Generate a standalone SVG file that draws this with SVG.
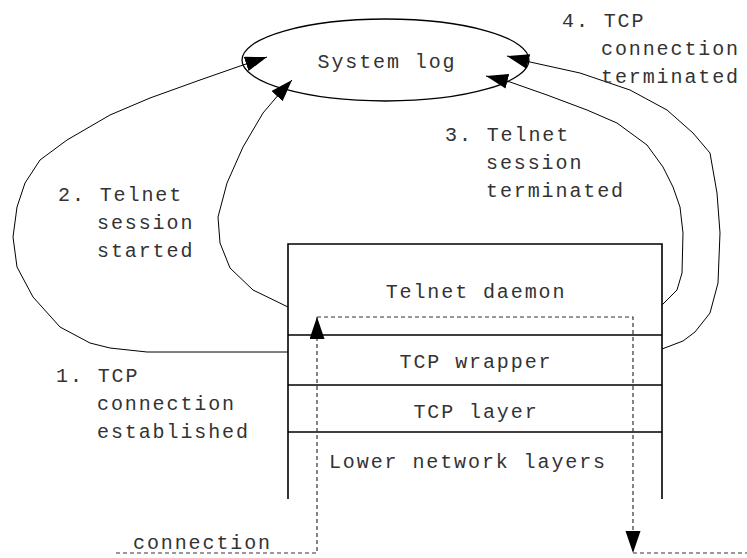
<svg xmlns="http://www.w3.org/2000/svg" width="747" height="558" viewBox="0 0 747 558">
<style>
  text { font-family: "Liberation Mono", "Courier New", monospace; font-size: 20px; letter-spacing: 1.9px; fill: #333; }
  .mid { text-anchor: middle; }
  .node { fill: none; stroke: #000; stroke-width: 1.3; }
  .layer { fill: none; stroke: #000; stroke-width: 1.6; }
  .curve { fill: none; stroke: #000; stroke-width: 1; stroke-linejoin: round; }
  .dash { fill: none; stroke: #333; stroke-width: 1.2; stroke-dasharray: 4 3; }
</style>
<defs>
  <marker id="arrow" markerUnits="userSpaceOnUse" markerWidth="24" markerHeight="16" refX="22" refY="7.5" orient="auto">
    <path d="M0,0 L22,7.5 L0,15 z" fill="#000"/>
  </marker>
</defs>
<rect width="747" height="558" fill="#fff"/>

<g id="system-log">
  <ellipse class="node" cx="385.5" cy="60" rx="143.5" ry="41"/>
  <text x="387" y="68" class="mid">System log</text>
</g>

<g id="telnet-daemon">
  <path class="layer" d="M288,499 V244 H662 V499"/>
  <text x="476" y="298" class="mid">Telnet daemon</text>
</g>
<g id="tcp-wrapper">
  <line class="layer" x1="288" y1="335" x2="662" y2="335"/>
  <text x="476" y="368" class="mid">TCP wrapper</text>
</g>
<g id="tcp-layer">
  <line class="layer" x1="288" y1="385" x2="662" y2="385"/>
  <text x="476" y="418" class="mid">TCP layer</text>
</g>
<g id="lower-layers">
  <line class="layer" x1="288" y1="432" x2="662" y2="432"/>
  <text x="468" y="468" class="mid">Lower network layers</text>
</g>

<g id="connectors">
  <path class="curve" marker-end="url(#arrow)" d="M288,352 L200,352 L147,352 L110,348 L90,343 L60,327 L33,297 L17,267 L13,237 L17,207 L25,183 L40,160 L67,140 L110,115 L150,98 L200,80 L243,65 L267,57"/>
  <path class="curve" marker-end="url(#arrow)" d="M288,307 L253,290 L230,268 L220,243 L218,217 L227,183 L243,147 L263,113 L280,93 L292,80"/>
  <path class="curve" marker-end="url(#arrow)" d="M662,305 L677,290 L682,273 L683,233 L680,207 L673,187 L663,167 L647,145 L617,123 L587,110 L547,95 L510,82 L486,76"/>
  <path class="curve" marker-end="url(#arrow)" d="M662,349 L683,341 L695,332 L710,313 L718,283 L720,233 L717,193 L710,153 L693,133 L667,110 L630,90 L580,73 L530,62 L507,56"/>
  <path class="dash" marker-end="url(#arrow)" d="M116,553 H317 V317"/>
  <path class="dash" marker-end="url(#arrow)" d="M317,317 H633 V553"/>
  <path class="dash" d="M633,553 H747"/>
</g>

<g id="labels">
  <text x="56" y="382">1. TCP</text>
  <text x="97" y="410">connection</text>
  <text x="97" y="438">established</text>
  <text x="58" y="201">2. Telnet</text>
  <text x="97" y="229">session</text>
  <text x="97" y="257">started</text>
  <text x="445" y="141">3. Telnet</text>
  <text x="486" y="169">session</text>
  <text x="486" y="197">terminated</text>
  <text x="562" y="27">4. TCP</text>
  <text x="601" y="55">connection</text>
  <text x="601" y="83">terminated</text>
  <text x="133" y="549">connection</text>
</g>
</svg>
